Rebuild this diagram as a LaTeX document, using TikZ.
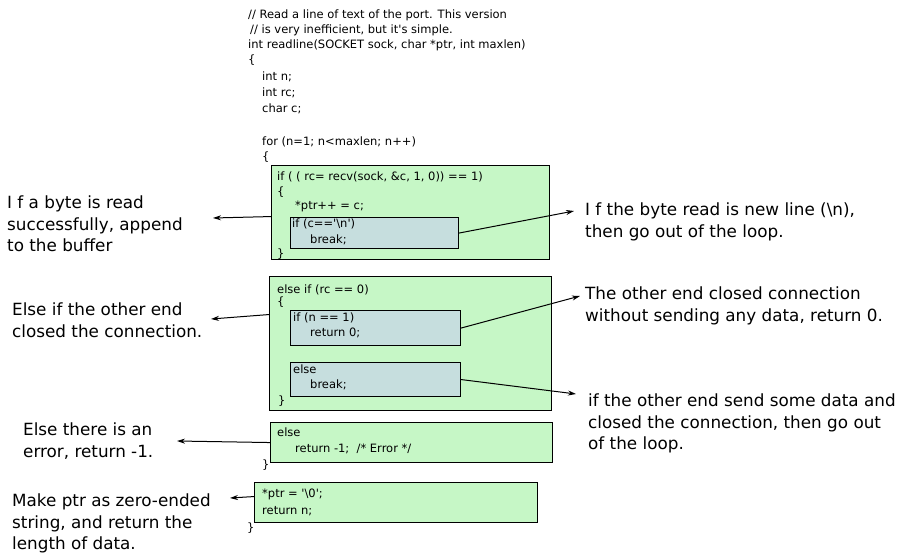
\documentclass[tikz,border=0pt]{standalone}
\usepackage{fontspec}
\usetikzlibrary{arrows.meta}
\newfontfamily\codefont{DejaVu Sans}
\newfontfamily\notefont{DejaVu Sans}
\definecolor{codegreen}{RGB}{198,247,198}
\definecolor{codeblue}{RGB}{198,222,222}

\begin{document}
\begin{tikzpicture}[x=1pt,y=-1pt,
	code/.style={anchor=base west,inner sep=0pt,font=\codefont\fontsize{11.5}{14}\selectfont},
	note/.style={anchor=north west,inner sep=0pt,align=left,font=\notefont\fontsize{16.8}{21.5}\selectfont},
	outerbox/.style={draw,line width=1.1pt,fill=codegreen,inner sep=0pt,anchor=north west},
	innerbox/.style={draw,line width=1.1pt,fill=codeblue,inner sep=0pt,anchor=north west},
	pointer/.style={line width=1pt,-{Stealth[length=8pt,width=5pt]}}]

\useasboundingbox (0,0) rectangle (911,554);

% code boxes
\node[outerbox,minimum width=278,minimum height=94] (recvbox) at (271,165) {};
\node[innerbox,minimum width=168,minimum height=31] (nlbox) at (290,217) {};
\node[outerbox,minimum width=282,minimum height=134] (zerobox) at (269,276) {};
\node[innerbox,minimum width=170,minimum height=35] (onebox) at (290,310) {};
\node[innerbox,minimum width=170,minimum height=34] (brkbox) at (290,362) {};
\node[outerbox,minimum width=282,minimum height=40] (errbox) at (270,422) {};
\node[outerbox,minimum width=283,minimum height=40] (retbox) at (254,482) {};

% code lines
\node[code] (c1) at (248,18) {// Read a line of text of the port. This version};
\node[code] (c2) at (250,33) {// is very inefficient, but it's simple.};
\node[code] (c3) at (248,48) {int readline(SOCKET sock, char *ptr, int maxlen)};
\node[code] (c4) at (248,63) {\{};
\node[code] (c5) at (262,80) {int n;};
\node[code] (c6) at (262,96) {int rc;};
\node[code] (c7) at (262,112) {char c;};
\node[code] (c8) at (262,145) {for (n=1; n<maxlen; n++)};
\node[code] (c9) at (262,160) {\{};

\node[code] (r1) at (277,180) {if ( ( rc= recv(sock, \&c, 1, 0)) == 1)};
\node[code] (r2) at (277,195) {\{};
\node[code] (r3) at (295,209) {*ptr++ = c;};
\node[code] (r4) at (292,227) {if (c=='\textbackslash n')};
\node[code] (r5) at (310,243) {break;};
\node[code] (r6) at (277,257) {\}};

\node[code] (z1) at (277,293) {else if (rc == 0)};
\node[code] (z2) at (277,305) {\{};
\node[code] (z3) at (293,321) {if (n == 1)};
\node[code] (z4) at (310,336) {return 0;};
\node[code] (z5) at (293,373) {else};
\node[code] (z6) at (310,388) {break;};
\node[code] (z7) at (278,404) {\}};

\node[code] (e1) at (277,436) {else};
\node[code] (e2) at (295,452) {return -1;~~/* Error */};
\node[code] (e3) at (262,468) {\}};

\node[code] (p1) at (262,497) {*ptr = '\textbackslash 0';};
\node[code] (p2) at (262,514) {return n;};
\node[code] (p3) at (247,531) {\}};

% explanations
\node[note] (n1) at (7,196) {I f a byte is read\\successfully, append\\to the buffer};
\node[note] (n2) at (585,203) {I f the byte read is new line (\textbackslash n),\\then go out of the loop.};
\node[note] (n3) at (12,303) {Else if the other end\\closed the connection.};
\node[note] (n4) at (585,287) {The other end closed connection\\without sending any data, return 0.};
\node[note] (n5) at (588,394) {if the other end send some data and\\closed the connection, then go out\\of the loop.};
\node[note] (n6) at (23,423) {Else there is an\\error, return -1.};
\node[note] (n7) at (12,494) {Make ptr as zero-ended\\string, and return the\\length of data.};

\coordinate (t1) at (213,218);
\coordinate (t2) at (574,211);
\coordinate (t3) at (211,319);
\coordinate (t4) at (580,296);
\coordinate (t5) at (576,394);
\coordinate (t6) at (177,441);
\coordinate (t7) at (230,498);

\draw[pointer] ([yshift=-4pt]recvbox.west) -- (t1);
\draw[pointer] (nlbox.east) -- (t2);
\draw[pointer] ([yshift=29pt]zerobox.west) -- (t3);
\draw[pointer] (onebox.east) -- (t4);
\draw[pointer] (brkbox.east) -- (t5);
\draw[pointer] (errbox.west) -- (t6);
\draw[pointer] ([yshift=6pt]retbox.west) -- (t7);

\end{tikzpicture}
\end{document}
